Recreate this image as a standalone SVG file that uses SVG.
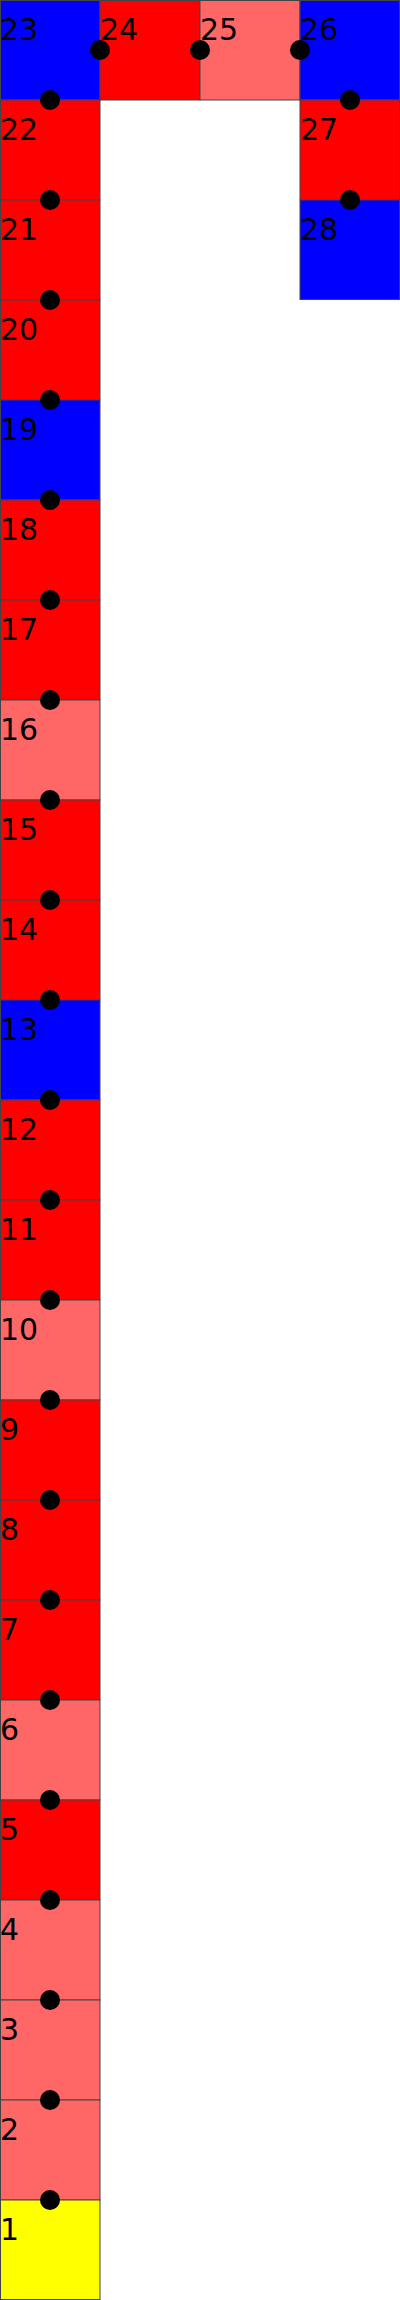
<svg xmlns="http://www.w3.org/2000/svg" width="400" height="2300" viewBox="0 0 400 2300">
<style>
rect{stroke:#444;stroke-width:1}
.r{fill:#ff0000}.l{fill:#ff6666}.b{fill:#0000ff}.y{fill:#ffff00}
text{font-family:"DejaVu Sans",sans-serif;font-size:30px;fill:#000}
.d{fill:#000}
</style>
<g id="n23"><rect class="b" x="0.5" y="0.5" width="99.5" height="99.5"/><text x="0" y="40">23</text></g>
<g id="n22"><rect class="r" x="0.5" y="100" width="99.5" height="100"/><text x="0" y="140">22</text></g>
<g id="n21"><rect class="r" x="0.5" y="200" width="99.5" height="100"/><text x="0" y="240">21</text></g>
<g id="n20"><rect class="r" x="0.5" y="300" width="99.5" height="100"/><text x="0" y="340">20</text></g>
<g id="n19"><rect class="b" x="0.5" y="400" width="99.5" height="100"/><text x="0" y="440">19</text></g>
<g id="n18"><rect class="r" x="0.5" y="500" width="99.5" height="100"/><text x="0" y="540">18</text></g>
<g id="n17"><rect class="r" x="0.5" y="600" width="99.5" height="100"/><text x="0" y="640">17</text></g>
<g id="n16"><rect class="l" x="0.5" y="700" width="99.5" height="100"/><text x="0" y="740">16</text></g>
<g id="n15"><rect class="r" x="0.5" y="800" width="99.5" height="100"/><text x="0" y="840">15</text></g>
<g id="n14"><rect class="r" x="0.5" y="900" width="99.5" height="100"/><text x="0" y="940">14</text></g>
<g id="n13"><rect class="b" x="0.5" y="1000" width="99.5" height="100"/><text x="0" y="1040">13</text></g>
<g id="n12"><rect class="r" x="0.5" y="1100" width="99.5" height="100"/><text x="0" y="1140">12</text></g>
<g id="n11"><rect class="r" x="0.5" y="1200" width="99.5" height="100"/><text x="0" y="1240">11</text></g>
<g id="n10"><rect class="l" x="0.5" y="1300" width="99.5" height="100"/><text x="0" y="1340">10</text></g>
<g id="n9"><rect class="r" x="0.5" y="1400" width="99.5" height="100"/><text x="0" y="1440">9</text></g>
<g id="n8"><rect class="r" x="0.5" y="1500" width="99.5" height="100"/><text x="0" y="1540">8</text></g>
<g id="n7"><rect class="r" x="0.5" y="1600" width="99.5" height="100"/><text x="0" y="1640">7</text></g>
<g id="n6"><rect class="l" x="0.5" y="1700" width="99.5" height="100"/><text x="0" y="1740">6</text></g>
<g id="n5"><rect class="r" x="0.5" y="1800" width="99.5" height="100"/><text x="0" y="1840">5</text></g>
<g id="n4"><rect class="l" x="0.5" y="1900" width="99.5" height="100"/><text x="0" y="1940">4</text></g>
<g id="n3"><rect class="l" x="0.5" y="2000" width="99.5" height="100"/><text x="0" y="2040">3</text></g>
<g id="n2"><rect class="l" x="0.5" y="2100" width="99.5" height="100"/><text x="0" y="2140">2</text></g>
<g id="n1"><rect class="y" x="0.5" y="2200" width="99.5" height="99.5"/><text x="0" y="2240">1</text></g>
<g id="n24"><rect class="r" x="100" y="0.5" width="100" height="99.5"/><text x="100" y="40">24</text></g>
<g id="n25"><rect class="l" x="200" y="0.5" width="100" height="99.5"/><text x="200" y="40">25</text></g>
<g id="n26"><rect class="b" x="300" y="0.5" width="99.5" height="99.5"/><text x="300" y="40">26</text></g>
<g id="n27"><rect class="r" x="300" y="100" width="99.5" height="100"/><text x="300" y="140">27</text></g>
<g id="n28"><rect class="b" x="300" y="200" width="99.5" height="99.5"/><text x="300" y="240">28</text></g>
<g id="connectors" class="d">
<circle cx="50" cy="2200" r="10"/><circle cx="50" cy="2100" r="10"/><circle cx="50" cy="2000" r="10"/>
<circle cx="50" cy="1900" r="10"/><circle cx="50" cy="1800" r="10"/><circle cx="50" cy="1700" r="10"/>
<circle cx="50" cy="1600" r="10"/><circle cx="50" cy="1500" r="10"/><circle cx="50" cy="1400" r="10"/>
<circle cx="50" cy="1300" r="10"/><circle cx="50" cy="1200" r="10"/><circle cx="50" cy="1100" r="10"/>
<circle cx="50" cy="1000" r="10"/><circle cx="50" cy="900" r="10"/><circle cx="50" cy="800" r="10"/>
<circle cx="50" cy="700" r="10"/><circle cx="50" cy="600" r="10"/><circle cx="50" cy="500" r="10"/>
<circle cx="50" cy="400" r="10"/><circle cx="50" cy="300" r="10"/><circle cx="50" cy="200" r="10"/>
<circle cx="50" cy="100" r="10"/>
<circle cx="100" cy="50" r="10"/><circle cx="200" cy="50" r="10"/><circle cx="300" cy="50" r="10"/>
<circle cx="350" cy="100" r="10"/><circle cx="350" cy="200" r="10"/>
</g>
</svg>
